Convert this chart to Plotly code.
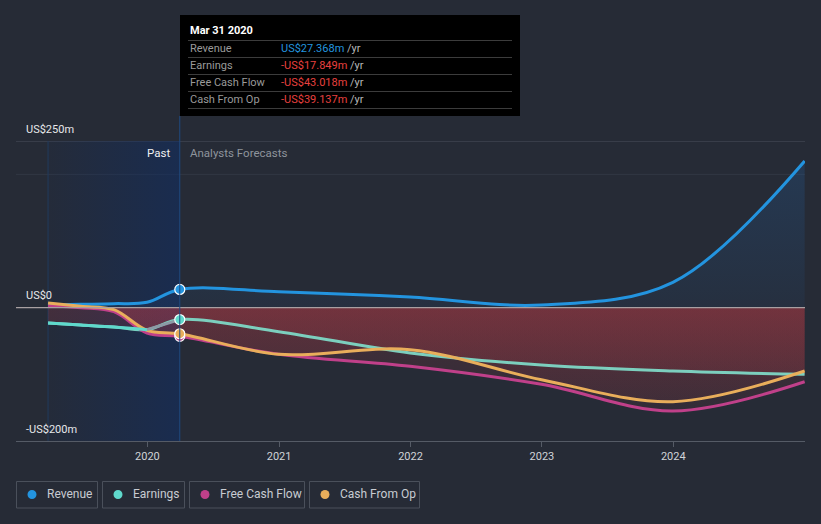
import plotly.graph_objects as go

# ---------------- data ----------------
dates = ["2019-03-31", "2019-06-30", "2019-09-30", "2019-12-31", "2020-03-31",
         "2020-12-31", "2021-12-31", "2022-12-31", "2023-12-31", "2024-12-31"]
revenue = [4, 5, 6, 8, 27.368, 24, 16, 4, 38, 220]
earnings = [-23, -26, -29, -33, -17.849, -36, -68, -86, -95, -100]
free_cash_flow = [3, 0, -6, -38, -43.018, -70, -88, -115, -155, -111]
cash_from_op = [7, 2, -3, -34, -39.137, -70, -63, -108, -141, -95]

x_ticks = ["2020-01-01", "2021-01-01", "2022-01-01", "2023-01-01", "2024-01-01"]
x_tick_labels = ["2020", "2021", "2022", "2023", "2024"]
y_labels = [(250, "US$250m"), (0, "US$0"), (-200, "-US$200m")]

past_start, past_end = "2019-03-31", "2020-03-31"
tooltip_title = "Mar 31 2020"
tooltip_rows = [("Revenue", "US$27.368m", "#2394df"),
                ("Earnings", "-US$17.849m", "#e8403f"),
                ("Free Cash Flow", "-US$43.018m", "#e8403f"),
                ("Cash From Op", "-US$39.137m", "#e8403f")]

C_REV = "#2394df"
C_EARN = "#5fd9cc"
C_EARN_F = "#7ccfbe"
C_FCF = "#c0408a"
C_CFO = "#e9ae5b"
BG = "#262b36"
FONT = "Roboto"

W, H = 821, 524
L, R, T, B = 16, 16, 141, 83
PW, PH = W - L - R, H - T - B


def px(x):
    return (x - L) / PW


def py(y):
    return (T + PH - y) / PH


fig = go.Figure()

# past shading
fig.add_trace(go.Scatter(
    x=[past_start, past_start, past_end, past_end, past_start],
    y=[-200, 250, 250, -200, -200], mode="lines", line=dict(width=0),
    fill="toself", fillgradient=dict(type="horizontal",
                                     colorscale=[[0, "rgba(15,45,100,0.08)"], [1, "rgba(15,45,100,0.55)"]]),
    hoverinfo="skip", showlegend=False))

# fills
fig.add_trace(go.Scatter(x=dates, y=revenue, mode="lines", line=dict(width=0, shape="spline"),
                         fill="tozeroy",
                         fillgradient=dict(type="vertical", start=0, stop=220,
                                           colorscale=[[0, "rgba(35,90,150,0.10)"], [1, "rgba(35,90,150,0.30)"]]),
                         hoverinfo="skip", showlegend=False))
for ser in (earnings, cash_from_op, free_cash_flow):
    fig.add_trace(go.Scatter(x=dates, y=ser, mode="lines", line=dict(width=0, shape="spline"),
                             fill="tozeroy",
                             fillgradient=dict(type="vertical", start=-160, stop=0,
                                               colorscale=[[0, "rgba(200,60,70,0.07)"], [1, "rgba(200,60,70,0.19)"]]),
                             hoverinfo="skip", showlegend=False))

# lines
for ser, col in ((revenue, C_REV), (earnings, C_EARN_F), (free_cash_flow, C_FCF), (cash_from_op, C_CFO)):
    fig.add_trace(go.Scatter(x=dates, y=ser, mode="lines",
                             line=dict(color=col, width=3, shape="spline"),
                             hoverinfo="skip", showlegend=False))
# brighter past earnings
fig.add_trace(go.Scatter(x=dates[:4], y=earnings[:4], mode="lines",
                         line=dict(color=C_EARN, width=3, shape="spline"),
                         hoverinfo="skip", showlegend=False))
# grey earnings transition segment
fig.add_trace(go.Scatter(x=dates[3:5], y=earnings[3:5], mode="lines",
                         line=dict(color="#8c9aa6", width=3, shape="spline"),
                         hoverinfo="skip", showlegend=False))

# markers at Mar 31 2020
for ser, col in ((revenue, C_REV), (earnings, C_EARN), (free_cash_flow, C_FCF), (cash_from_op, C_CFO)):
    fig.add_trace(go.Scatter(x=[dates[4]], y=[ser[4]], mode="markers",
                             marker=dict(size=10, color=col, line=dict(color="white", width=1.2)),
                             hoverinfo="skip", showlegend=False))

shapes = []
annotations = []

# horizontal reference lines
shapes.append(dict(type="line", xref="paper", yref="y", x0=0, x1=1, y0=250, y1=250,
                   line=dict(color="#4b515c", width=1), layer="below"))
shapes.append(dict(type="line", xref="paper", yref="y", x0=0, x1=1, y0=200, y1=200,
                   line=dict(color="#323844", width=1), layer="below"))
shapes.append(dict(type="line", xref="paper", yref="y", x0=0, x1=1, y0=0, y1=0,
                   line=dict(color="#a8a0a2", width=1.2)))
# past divider
shapes.append(dict(type="line", xref="x", yref="paper", x0=past_end, x1=past_end, y0=0, y1=py(116),
                   line=dict(color="#1f4a80", width=1)))
shapes.append(dict(type="line", xref="x", yref="paper", x0=past_start, x1=past_start, y0=0, y1=1,
                   line=dict(color="#223a5c", width=1), layer="below"))

for v, t in y_labels:
    annotations.append(dict(xref="paper", yref="y", x=px(24), y=v, yshift=12, text=t,
                            showarrow=False, xanchor="left", yanchor="middle",
                            font=dict(color="#e6e8ea", size=11, family=FONT)))

annotations.append(dict(xref="paper", yref="paper", x=px(172), y=py(153), text="Past",
                        showarrow=False, xanchor="right", yanchor="middle",
                        font=dict(color="#eef0f2", size=11.5, family=FONT)))
annotations.append(dict(xref="paper", yref="paper", x=px(188), y=py(153), text="Analysts Forecasts",
                        showarrow=False, xanchor="left", yanchor="middle",
                        font=dict(color="#8e949c", size=11.5, family=FONT)))

# tooltip
shapes.append(dict(type="rect", xref="paper", yref="paper", x0=px(180), x1=px(520), y0=py(116), y1=py(15),
                   fillcolor="#000000", line=dict(width=0)))
annotations.append(dict(xref="paper", yref="paper", x=px(188), y=py(31), text="<b>" + tooltip_title + "</b>",
                        showarrow=False, xanchor="left", yanchor="middle",
                        font=dict(color="#ffffff", size=11, family=FONT)))
for i, yl in enumerate([40.5, 57.5, 74.5, 91.5, 108.5]):
    shapes.append(dict(type="line", xref="paper", yref="paper", x0=px(188), x1=px(512), y0=py(yl), y1=py(yl),
                       line=dict(color="#3c3c3c", width=1)))
for i, (lab, val, col) in enumerate(tooltip_rows):
    yc = 48.5 + 17 * i
    annotations.append(dict(xref="paper", yref="paper", x=px(188), y=py(yc), text=lab,
                            showarrow=False, xanchor="left", yanchor="middle",
                            font=dict(color="#9a9a9a", size=11, family=FONT)))
    annotations.append(dict(xref="paper", yref="paper", x=px(279), y=py(yc),
                            text="<span style='color:%s'>%s</span> /yr" % (col, val),
                            showarrow=False, xanchor="left", yanchor="middle",
                            font=dict(color="#b8b8b8", size=11, family=FONT)))

# legend
legend_items = [("Revenue", C_REV, 16.5, 97.5), ("Earnings", C_EARN, 102.5, 184.5),
                ("Free Cash Flow", C_FCF, 189.5, 304.5), ("Cash From Op", C_CFO, 309.5, 419.5)]
for name, col, x0, x1 in legend_items:
    shapes.append(dict(type="rect", xref="paper", yref="paper", x0=px(x0), x1=px(x1), y0=py(508), y1=py(481.5),
                       line=dict(color="#4a505b", width=1), fillcolor="rgba(0,0,0,0)"))
    cx, cy, r = x0 + 15.5, 494.5, 4.5
    shapes.append(dict(type="circle", xref="paper", yref="paper", x0=px(cx - r), x1=px(cx + r),
                       y0=py(cy + r), y1=py(cy - r), fillcolor=col, line=dict(width=0)))
    annotations.append(dict(xref="paper", yref="paper", x=px(x0 + 28), y=py(494.5), text=name,
                            showarrow=False, xanchor="left", yanchor="middle",
                            font=dict(color="#c8ccd2", size=12, family=FONT)))

fig.update_layout(
    width=W, height=H, margin=dict(l=L, r=R, t=T, b=B),
    paper_bgcolor=BG, plot_bgcolor=BG, showlegend=False,
    font=dict(family=FONT),
    xaxis=dict(type="date", range=["2019-01-01", "2025-01-01"], showgrid=False, zeroline=False,
               tickvals=x_ticks, ticktext=x_tick_labels, ticks="outside", ticklen=5,
               tickcolor="#555b66", showline=True, linecolor="#555b66", linewidth=1,
               tickfont=dict(color="#d0d3d8", size=11, family=FONT), fixedrange=True),
    yaxis=dict(range=[-200, 250], showgrid=False, zeroline=False, showticklabels=False,
               fixedrange=True),
    shapes=shapes, annotations=annotations,
    hovermode=False,
)

fig.write_html("out.html", config={"displayModeBar": False},
               post_script="document.body.style.margin='0';document.body.style.overflow='hidden';"
                           "document.body.style.background='%s';" % BG)
